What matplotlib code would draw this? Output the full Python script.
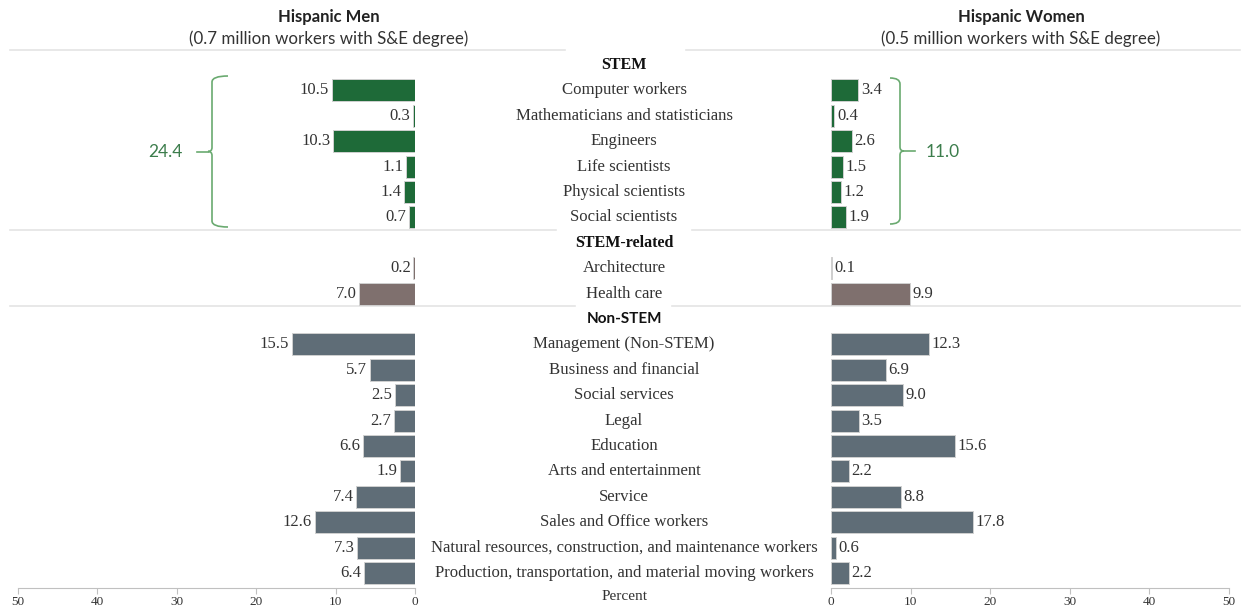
import numpy as np
import matplotlib
matplotlib.use("Agg")
import matplotlib.pyplot as plt
from matplotlib.path import Path
from matplotlib.patches import PathPatch

plt.rcParams['font.family'] = ['Liberation Serif', 'DejaVu Serif']

# data (percent of workers with S&E degree)
groups = ["STEM", "STEM-related", "Non-STEM"]
stem_labels = ["Computer workers", "Mathematicians and statisticians", "Engineers",
               "Life scientists", "Physical scientists", "Social scientists"]
stem_men = [10.5, 0.3, 10.3, 1.1, 1.4, 0.7]
stem_women = [3.4, 0.4, 2.6, 1.5, 1.2, 1.9]
related_labels = ["Architecture", "Health care"]
related_men = [0.2, 7.0]
related_women = [0.1, 9.9]
non_labels = ["Management (Non-STEM)", "Business and financial", "Social services", "Legal",
              "Education", "Arts and entertainment", "Service", "Sales and Office workers",
              "Natural resources, construction, and maintenance workers",
              "Production, transportation, and material moving workers"]
non_men = [15.5, 5.7, 2.5, 2.7, 6.6, 1.9, 7.4, 12.6, 7.3, 6.4]
non_women = [12.3, 6.9, 9.0, 3.5, 15.6, 2.2, 8.8, 17.8, 0.6, 2.2]
stem_total_men = 24.4
stem_total_women = 11.0
xticks = [0, 10, 20, 30, 40, 50]

colors = {"STEM": "#1e6a38", "STEM-related": "#7f706e", "Non-STEM": "#5f6d77"}
group_data = [(stem_labels, stem_men, stem_women),
              (related_labels, related_men, related_women),
              (non_labels, non_men, non_women)]

# build row list: header rows + category rows
rows = []
for g, (labs, m, w) in zip(groups, group_data):
    rows.append((g, None, None, g, True))
    for lab, vm, vw in zip(labs, m, w):
        rows.append((lab, vm, vw, g, False))

W, H = 1248, 608
fig = plt.figure(figsize=(W / 100, H / 100), dpi=100)

top_px, bot_px, row0, step = 50, 588, 65, 25.4
ylim = ((bot_px - row0) / step, (top_px - row0) / step)
def rect(x0, x1):
    return [x0 / W, (H - bot_px) / H, (x1 - x0) / W, (bot_px - top_px) / H]

# background axes in pixel coords for separators and braces
bg = fig.add_axes([0, 0, 1, 1])
bg.set_xlim(0, W)
bg.set_ylim(H, 0)
bg.axis('off')
sep_col = '#e4e4e4'
for y, gaps in [(50, (565, 686)), (229.5, (556, 692)), (305.5, (575, 672))]:
    bg.plot([10, gaps[0]], [y, y], color=sep_col, lw=1.2)
    bg.plot([gaps[1], 1240], [y, y], color=sep_col, lw=1.2)

axl = fig.add_axes(rect(18, 415))
axr = fig.add_axes(rect(831, 1229))
axc = fig.add_axes(rect(420, 828))

for ax, side in [(axl, 'men'), (axr, 'women')]:
    ax.patch.set_visible(False)
    for i, (lab, vm, vw, g, hdr) in enumerate(rows):
        if hdr:
            continue
        v = vm if side == 'men' else vw
        ax.barh(i, v, height=0.86, color=colors[g], edgecolor='#d0d0d0', linewidth=0.7)
        if side == 'men':
            ax.text(v + 0.35, i, f"{v:.1f}", ha='right', va='center', fontsize=12, color='#333333')
        else:
            ax.text(v + 0.35, i, f"{v:.1f}", ha='left', va='center', fontsize=12, color='#333333')
    ax.set_ylim(*ylim)
    ax.set_xlim(0, 50)
    ax.set_yticks([])
    ax.set_xticks(xticks)
    ax.set_xticklabels([str(t) for t in xticks], fontsize=9.5, color='#333333')
    for s in ['top', 'right', 'left']:
        ax.spines[s].set_visible(False)
    ax.spines['bottom'].set_color('#c0c0c0')
    ax.tick_params(axis='x', length=4, color='#c0c0c0', pad=2)
axl.invert_xaxis()

axc.axis('off')
axc.set_ylim(*ylim)
axc.set_xlim(0, 1)
for i, (lab, vm, vw, g, hdr) in enumerate(rows):
    if hdr:
        if g == "Non-STEM":
            axc.text(0.5, i, lab, ha='center', va='center', fontsize=11,
                     fontweight='bold', family=['Lato', 'DejaVu Sans'], color='#111111')
        else:
            axc.text(0.5, i, lab, ha='center', va='center', fontsize=11.5,
                     fontweight='bold', color='#111111')
    else:
        axc.text(0.5, i, lab, ha='center', va='center', fontsize=12.1, color='#333333')
fig.text(625 / W, 1 - 597 / H, "Percent", ha='center', va='center', fontsize=11, color='#333333')

# titles
sans = ['Lato', 'DejaVu Sans']
fig.text(329 / W, 1 - 17 / H, "Hispanic Men", ha='center', va='center', fontsize=12,
         fontweight='bold', family=sans, color='#222222')
fig.text(329 / W, 1 - 39 / H, "(0.7 million workers with S&E degree)", ha='center', va='center',
         fontsize=12.2, family=sans, color='#333333')
fig.text(1021 / W, 1 - 17 / H, "Hispanic Women", ha='center', va='center', fontsize=12,
         fontweight='bold', family=sans, color='#222222')
fig.text(1021 / W, 1 - 39 / H, "(0.5 million workers with S&E degree)", ha='center', va='center',
         fontsize=12.2, family=sans, color='#333333')

# braces around STEM group
brace_col = '#6aaa70'
def brace(x, y0, y1, d):
    # d > 0: ends curl right, tip points left
    ym = (y0 + y1) / 2
    r = 6
    verts = [(x + d, y0), (x, y0), (x, y0 + r),
             (x, ym - 4), (x, ym), (x - 4 * np.sign(d), ym),
             (x, ym), (x, ym + 4),
             (x, y1 - r), (x, y1), (x + d, y1)]
    codes = [Path.MOVETO, Path.CURVE3, Path.CURVE3,
             Path.LINETO, Path.CURVE3, Path.CURVE3,
             Path.CURVE3, Path.CURVE3,
             Path.LINETO, Path.CURVE3, Path.CURVE3]
    bg.add_patch(PathPatch(Path(verts, codes), fill=False, edgecolor=brace_col, lw=1.2))
    bg.plot([x - 4 * np.sign(d), x - 15 * np.sign(d)], [ym, ym], color=brace_col, lw=1.2)

brace(212, 76, 227, 16)
brace(900, 78, 224, -10)
bg.text(183, 152, f"{stem_total_men:.1f}", ha='right', va='center', fontsize=12.5,
        family=sans, color='#3c7d4c')
bg.text(926, 152, f"{stem_total_women:.1f}", ha='left', va='center', fontsize=12.5,
        family=sans, color='#3c7d4c')

fig.savefig("out.png", dpi=100)
